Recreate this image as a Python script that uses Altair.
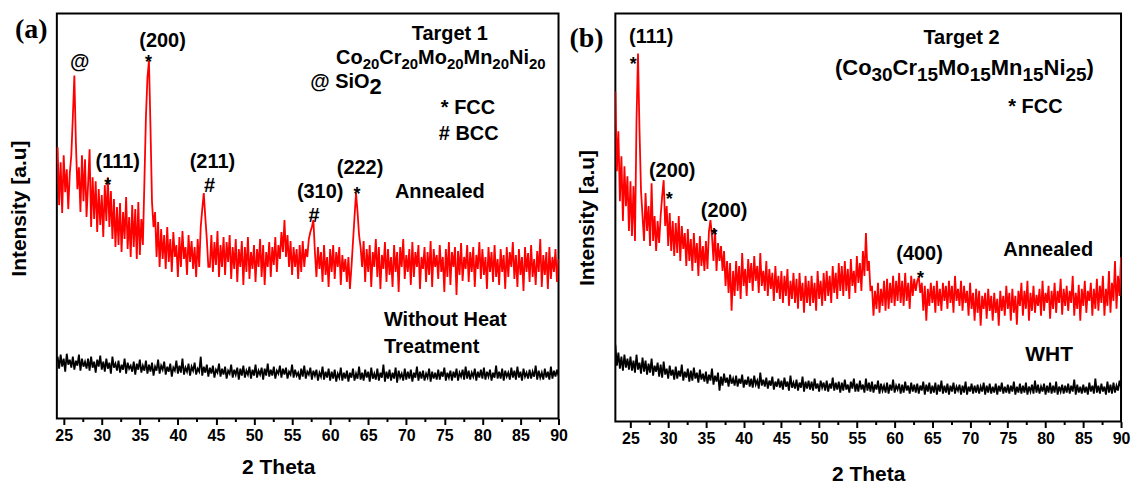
import altair as alt
import pandas as pd
import numpy as np

# ---------------- data ----------------
# 2-theta scan grids (0.2 deg step)
theta_a = [round(v, 1) for v in np.arange(24.2, 90.0001, 0.2)]
theta_b = [round(v, 1) for v in np.arange(23.0, 90.0001, 0.2)]

# Target 1 - Annealed (24.2 .. 90.0)
annealed_a = [
    270, 212, 255, 204, 262, 225, 248, 208, 244, 262,
    300, 342, 275, 228, 250, 205, 262, 216, 258, 200,
    232, 268, 190, 240, 198, 236, 185, 228, 192, 222,
    180, 232, 196, 240, 190, 226, 178, 218, 170, 210,
    172, 214, 165, 205, 178, 220, 168, 200, 160, 212,
    170, 208, 158, 215, 162, 198, 172, 235, 300, 340,
    357, 290, 215, 190, 205, 160, 195, 150, 188, 158,
    182, 148, 190, 155, 178, 145, 185, 160, 172, 140,
    180, 150, 186, 158, 170, 142, 182, 155, 176, 148,
    170, 140, 178, 150, 190, 208, 224, 200, 178, 150,
    150, 182, 145, 175, 152, 186, 140, 172, 150, 180,
    142, 175, 155, 182, 138, 170, 148, 178, 135, 168,
    150, 176, 132, 170, 145, 180, 138, 165, 148, 172,
    135, 168, 150, 178, 140, 172, 132, 165, 150, 175,
    140, 170, 152, 180, 145, 172, 158, 185, 165, 197,
    160, 182, 150, 176, 142, 170, 150, 168, 138, 172,
    145, 176, 150, 168, 160, 178, 185, 190, 197, 165,
    140, 170, 148, 165, 135, 172, 142, 160, 130, 168,
    145, 172, 138, 165, 150, 170, 132, 162, 145, 158,
    135, 160, 128, 150, 175, 200, 224, 205, 182, 170,
    150, 176, 135, 168, 145, 172, 130, 165, 150, 178,
    140, 170, 128, 162, 148, 175, 135, 168, 142, 160,
    130, 172, 145, 165, 125, 170, 150, 178, 138, 162,
    145, 168, 132, 175, 140, 165, 150, 172, 128, 160,
    148, 170, 135, 165, 142, 176, 130, 168, 150, 162,
    138, 172, 145, 160, 125, 168, 140, 175, 132, 165,
    150, 170, 122, 166, 142, 174, 136, 160, 148, 172,
    135, 165, 145, 170, 130, 162, 148, 175, 138, 168,
    142, 160, 128, 170, 145, 165, 135, 172, 140, 158,
    132, 168, 145, 162, 128, 170, 140, 165, 150, 175,
    138, 162, 130, 168, 142, 160, 126, 170, 145, 164,
    135, 172, 140, 158, 132, 166, 145, 178, 130, 162,
    142, 165, 128, 170, 138, 160, 145, 168, 135, 158,
]

# Target 1 - Without Heat Treatment (24.2 .. 90.0)
wht_a = [
    60, 48, 62, 50, 58, 45, 63, 52, 57, 49,
    60, 47, 56, 51, 62, 46, 58, 50, 55, 48,
    58, 46, 60, 49, 55, 44, 57, 50, 61, 47,
    55, 45, 58, 48, 54, 43, 60, 49, 53, 46,
    56, 44, 52, 47, 58, 43, 54, 48, 51, 45,
    55, 42, 53, 47, 57, 44, 51, 46, 56, 43,
    52, 45, 54, 41, 50, 46, 57, 43, 51, 47,
    55, 42, 50, 45, 53, 40, 49, 46, 56, 43,
    51, 44, 58, 42, 49, 45, 53, 41, 50, 46,
    54, 42, 48, 45, 60, 41, 50, 44, 52, 40,
    49, 43, 51, 39, 47, 44, 53, 40, 48, 42,
    50, 38, 46, 43, 52, 39, 47, 42, 49, 37,
    48, 41, 51, 39, 46, 42, 50, 38, 47, 41,
    52, 39, 46, 42, 49, 37, 48, 41, 53, 40,
    47, 41, 50, 38, 46, 43, 51, 39, 48, 42,
    49, 38, 45, 42, 52, 39, 47, 41, 44, 37,
    48, 40, 51, 38, 45, 42, 49, 37, 46, 41,
    47, 36, 44, 40, 50, 37, 45, 39, 48, 36,
    45, 38, 47, 35, 43, 39, 49, 36, 44, 38,
    46, 35, 44, 39, 48, 36, 43, 38, 50, 37,
    44, 36, 47, 39, 45, 35, 49, 38, 43, 37,
    48, 36, 44, 39, 52, 35, 45, 38, 47, 36,
    44, 38, 49, 34, 46, 39, 43, 36, 48, 37,
    45, 38, 47, 35, 44, 39, 50, 36, 45, 38,
    46, 36, 43, 39, 48, 35, 45, 38, 44, 37,
    47, 37, 45, 40, 49, 36, 44, 39, 46, 36,
    45, 39, 48, 36, 44, 40, 47, 37, 50, 38,
    46, 37, 44, 40, 48, 36, 45, 39, 47, 38,
    49, 37, 45, 40, 47, 36, 44, 39, 51, 38,
    45, 38, 48, 36, 46, 40, 44, 37, 49, 39,
    46, 37, 50, 39, 45, 36, 48, 40, 44, 38,
    47, 38, 45, 40, 51, 37, 46, 39, 44, 37,
    48, 39, 45, 37, 50, 38, 46, 40, 47, 41,
]

# Target 2 - Annealed (23.0 .. 90.0)
annealed_b = [
    330, 250, 290, 220, 265, 200, 255, 215, 245, 190,
    240, 185, 235, 180, 300, 368, 290, 230, 205, 180,
    228, 190, 215, 175, 238, 180, 205, 170, 200, 178,
    205, 225, 241, 195, 215, 175, 208, 170, 200, 165,
    198, 168, 205, 160, 195, 172, 188, 155, 192, 160,
    182, 150, 188, 158, 178, 145, 185, 155, 175, 150,
    180, 152, 190, 201, 185, 160, 192, 150, 178, 160,
    175, 150, 170, 135, 160, 128, 158, 110, 150, 125,
    160, 130, 155, 122, 168, 135, 152, 125, 162, 138,
    158, 130, 165, 140, 155, 128, 168, 135, 150, 130,
    160, 125, 152, 132, 148, 120, 155, 128, 145, 122,
    150, 118, 145, 125, 152, 115, 140, 122, 148, 118,
    142, 112, 148, 120, 138, 108, 145, 118, 140, 115,
    145, 118, 138, 110, 150, 122, 140, 115, 148, 120,
    150, 125, 145, 118, 155, 128, 148, 122, 158, 130,
    155, 125, 160, 130, 152, 122, 162, 135, 150, 128,
    165, 138, 158, 130, 170, 145, 188, 150, 160, 130,
    135, 105, 130, 112, 138, 108, 132, 115, 140, 110,
    142, 112, 138, 118, 145, 115, 140, 120, 148, 118,
    140, 115, 148, 120, 138, 112, 145, 125, 142, 130,
    140, 144, 128, 138, 110, 135, 100, 132, 115, 138,
    118, 135, 108, 140, 115, 132, 110, 138, 120, 135,
    112, 140, 118, 135, 108, 145, 120, 132, 115, 140,
    110, 135, 118, 130, 105, 138, 112, 128, 100, 132,
    108, 130, 95, 125, 112, 128, 102, 132, 110, 125,
    100, 128, 108, 122, 95, 130, 110, 125, 105, 135,
    112, 128, 100, 132, 108, 125, 96, 130, 115, 138,
    105, 130, 112, 140, 100, 128, 110, 135, 108, 126,
    115, 132, 105, 140, 110, 128, 118, 135, 102, 130,
    112, 138, 108, 130, 118, 142, 106, 132, 115, 135,
    110, 130, 118, 145, 105, 128, 112, 136, 100, 132,
    115, 140, 108, 130, 120, 138, 105, 132, 112, 142,
    110, 135, 118, 145, 105, 132, 115, 150, 108, 138,
    120, 160, 112, 145, 125, 164,
]

# Target 2 - WHT (23.0 .. 90.0)
wht_b = [
    76, 55, 68, 52, 64, 50, 66, 53, 62, 51,
    64, 50, 60, 48, 66, 51, 58, 47, 63, 49,
    60, 46, 57, 48, 62, 45, 55, 49, 58, 44,
    56, 43, 59, 46, 52, 42, 55, 45, 51, 41,
    54, 42, 50, 44, 56, 40, 49, 43, 52, 39,
    50, 40, 53, 42, 48, 38, 51, 41, 47, 39,
    49, 37, 46, 40, 52, 36, 45, 39, 48, 30,
    44, 35, 47, 38, 43, 34, 46, 37, 42, 35,
    45, 34, 42, 37, 46, 33, 41, 36, 44, 34,
    42, 33, 45, 36, 40, 32, 48, 35, 41, 34,
    43, 32, 40, 35, 44, 31, 39, 34, 42, 33,
    40, 31, 43, 34, 39, 30, 45, 33, 38, 32,
    41, 30, 38, 33, 44, 29, 39, 32, 40, 31,
    39, 30, 42, 32, 37, 29, 40, 33, 38, 30,
    40, 29, 37, 32, 43, 30, 38, 31, 39, 28,
    38, 30, 41, 31, 36, 28, 39, 32, 42, 29,
    37, 29, 40, 31, 36, 28, 42, 30, 38, 29,
    39, 28, 36, 31, 40, 27, 37, 30, 35, 28,
    38, 27, 36, 30, 41, 28, 35, 31, 37, 27,
    36, 28, 39, 30, 35, 27, 38, 29, 36, 28,
    37, 27, 35, 30, 39, 26, 36, 29, 38, 27,
    35, 28, 38, 26, 36, 29, 40, 27, 35, 28,
    37, 26, 35, 29, 38, 27, 34, 30, 36, 26,
    35, 28, 39, 26, 34, 29, 37, 27, 35, 28,
    36, 27, 34, 29, 38, 26, 35, 28, 37, 27,
    34, 28, 37, 26, 35, 29, 38, 27, 34, 28,
    36, 27, 35, 29, 39, 26, 34, 28, 37, 27,
    35, 28, 38, 26, 34, 29, 36, 27, 40, 28,
    36, 27, 34, 29, 37, 26, 35, 28, 38, 27,
    35, 28, 39, 26, 34, 29, 36, 27, 35, 28,
    37, 27, 35, 29, 41, 26, 36, 28, 34, 27,
    36, 28, 34, 26, 38, 29, 35, 27, 42, 28,
    35, 27, 37, 29, 34, 26, 39, 28, 36, 27,
    38, 28, 35, 30, 40, 33,
]

major_ticks = [25, 30, 35, 40, 45, 50, 55, 60, 65, 70, 75, 80, 85, 90]
minor_ticks = [27.5, 32.5, 37.5, 42.5, 47.5, 52.5, 57.5, 62.5, 67.5, 72.5, 77.5, 82.5, 87.5]

assert len(theta_a) == len(annealed_a) == len(wht_a), (len(theta_a), len(annealed_a), len(wht_a))
assert len(theta_b) == len(annealed_b) == len(wht_b), (len(theta_b), len(annealed_b), len(wht_b))

# ---------------- styling ----------------
FONT = "Liberation Sans"
SERIF = "Liberation Serif"
DUMMY = pd.DataFrame({"k": [0]})
LS = 20  # annotation font size

CW = {'C': .722, 'o': .611, 'r': .389, 'M': .833, 'n': .611, 'N': .722, 'i': .278,
      '(': .333, ')': .333, 'S': .667, 'O': .778, '@': .975, ' ': .278}
for d in "0123456789":
    CW[d] = .556


def tw(s, size):
    return sum(CW.get(c, .6) for c in s) * size


def txt(s, x, y, size=LS, align="center", baseline="middle", font=FONT, weight="bold"):
    return alt.Chart(DUMMY).mark_text(
        text=s, align=align, baseline=baseline, font=font, fontWeight=weight,
        fontSize=size, color="black"
    ).encode(x=alt.value(x), y=alt.value(y))


def star(x, cy, size=18):
    return txt("*", x, cy + 0.57 * size, size=size, baseline="alphabetic")


def formula(parts, cx, cy, size, ssize, sdy):
    total = sum(tw(p, ssize if sub else size) for p, sub in parts)
    x = cx - total / 2
    base = cy + 0.36 * size
    out = []
    for p, sub in parts:
        s = ssize if sub else size
        out.append(txt(p, x, base + (sdy if sub else 0), size=s, align="left", baseline="alphabetic"))
        x += tw(p, s)
    return out


def panel(theta, ann, wht, names, xdom, ydom, width, height, labels,
          ytitle_pad, xtitle_pad, xtitle_x=None, ytitle_y=None):
    n = len(theta)
    df = pd.DataFrame({
        "theta": list(theta) * 2,
        "I": list(ann) + list(wht),
        "series": [names[0]] * n + [names[1]] * n,
    })
    xkw = {}
    if xtitle_x is not None:
        xkw = dict(titleX=xtitle_x, titleAlign="center")
    ykw = {}
    if ytitle_y is not None:
        ykw = dict(titleY=ytitle_y)
    major = alt.Axis(values=major_ticks, title="2 Theta", orient="bottom",
                     labelFont=FONT, labelFontWeight="bold", labelFontSize=16, labelColor="black",
                     titleFont=FONT, titleFontWeight="bold", titleFontSize=21, titleColor="black",
                     tickSize=6, tickWidth=2, tickColor="black", domain=False, grid=False,
                     labelPadding=3, titlePadding=xtitle_pad, labelOverlap=False, labelFlush=False,
                     **xkw)
    minor = alt.Axis(values=minor_ticks, labels=False, title=None, orient="bottom",
                     tickSize=3, tickWidth=2, tickColor="black", domain=False, grid=False)
    yaxis = alt.Axis(title="Intensity [a.u]", ticks=False, labels=False, domain=False, grid=False,
                     titleFont=FONT, titleFontWeight="bold", titleFontSize=21, titleColor="black",
                     titlePadding=ytitle_pad, **ykw)
    lines = alt.Chart(df).mark_line(strokeWidth=1.8, clip=True).encode(
        x=alt.X("theta:Q", scale=alt.Scale(domain=xdom, nice=False, zero=False), axis=major),
        y=alt.Y("I:Q", scale=alt.Scale(domain=ydom, nice=False, zero=False), axis=yaxis),
        color=alt.Color("series:N", scale=alt.Scale(domain=names, range=["#ff0000", "#000000"]), legend=None),
    )
    minor_layer = alt.Chart(df).mark_point(opacity=0).encode(
        x=alt.X("theta:Q", scale=alt.Scale(domain=xdom, nice=False, zero=False), axis=minor)
    )
    return alt.layer(lines, minor_layer, *labels).resolve_scale(x="independent").properties(
        width=width, height=height)


# ---- annotations, panel (a): positions given in page pixels, shifted to plot origin ----
ax, ay = 55, 13
lab_a = [
    txt("(a)", 13 - ax, 29 - ay, size=28, align="left", font=SERIF),
    txt("@", 78 - ax, 62 - ay),
    txt("(200)", 161 - ax, 40 - ay), star(147 - ax, 57 - ay),
    txt("Target 1", 449 - ax, 33 - ay),
    *formula([("Co", 0), ("20", 1), ("Cr", 0), ("20", 1), ("Mo", 0), ("20", 1),
              ("Mn", 0), ("20", 1), ("Ni", 0), ("20", 1)], 440 - ax, 56 - ay, 20, 15, 5),
    txt("@ SiO", 309 - ax, 88 - ay, size=20, align="left", baseline="alphabetic"),
    txt("2", 309 - ax + tw("@ SiO", 20), 94 - ay, size=22, align="left", baseline="alphabetic"),
    txt("* FCC", 440 - ax, 108 - ay, align="left"),
    txt("# BCC", 438 - ax, 134 - ay, align="left"),
    txt("(111)", 116 - ax, 162 - ay), star(106 - ax, 181 - ay),
    txt("(211)", 211 - ax, 162 - ay), txt("#", 208 - ax, 186 - ay),
    txt("(310)", 319 - ax, 192 - ay), txt("#", 313 - ax, 216 - ay),
    txt("(222)", 359 - ax, 168 - ay), star(356 - ax, 190 - ay),
    txt("Annealed", 394 - ax, 192 - ay, align="left"),
    txt("Without Heat", 383 - ax, 320 - ay, align="left"),
    txt("Treatment", 383 - ax, 347 - ay, align="left"),
]

# ---- annotations, panel (b) ----
bx, by = 613, 13
lab_b = [
    txt("(b)", 567 - bx, 38 - by, size=28, align="left", font=SERIF),
    txt("(111)", 649 - bx, 36 - by), star(631 - bx, 59 - by),
    txt("Target 2", 960 - bx, 37 - by),
    *formula([("(Co", 0), ("30", 1), ("Cr", 0), ("15", 1), ("Mo", 0), ("15", 1),
              ("Mn", 0), ("15", 1), ("Ni", 0), ("25", 1), (")", 0)], 963 - bx, 67 - by, 22, 19, 6),
    txt("* FCC", 1007 - bx, 107 - by, align="left"),
    txt("(200)", 670 - bx, 171 - by), star(667 - bx, 195 - by),
    txt("(200)", 722 - bx, 211 - by), star(712 - bx, 231 - by),
    txt("(400)", 918 - bx, 254 - by), star(919 - bx, 274 - by),
    txt("Annealed", 1002 - bx, 250 - by, align="left"),
    txt("WHT", 1024 - bx, 355 - by, align="left", size=21),
]

pa = panel(theta_a, annealed_a, wht_a, ["Annealed", "Without Heat Treatment"],
           [24.1, 90], [-2, 404], 503, 406, lab_a,
           ytitle_pad=27, xtitle_pad=13, xtitle_x=277 - ax, ytitle_y=208 - ay)
pb = panel(theta_b, annealed_b, wht_b, ["Annealed ", "WHT"],
           [23.0, 90], [-1, 408], 507, 409, lab_b,
           ytitle_pad=18, xtitle_pad=17)

chart = alt.hconcat(pa, pb, spacing=0).configure_view(
    stroke="black", strokeWidth=2
).properties(
    padding={"left": 8, "top": 12, "right": 0, "bottom": 0},
    background="white",
)

chart.save("out.html", embed_options={"renderer": "svg", "actions": False})
